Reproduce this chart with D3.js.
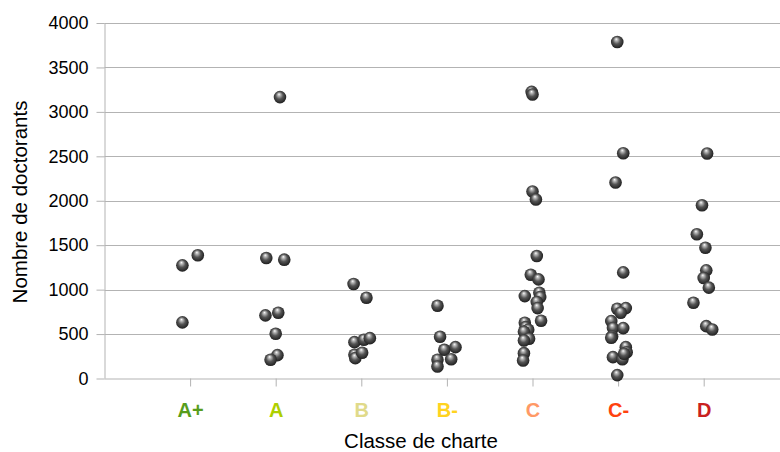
<!DOCTYPE html>
<html><head><meta charset="utf-8">
<script src="https://cdn.jsdelivr.net/npm/d3@7"></script>
<style>body{margin:0;background:#fff}svg{display:block}</style>
</head><body>
<svg id="c" width="780" height="452"></svg>
<script>
const categories = ["A+","A","B","B-","C","C-","D"];
const categoryColors = ["#579d1c","#aecf00","#e0da8a","#ffd320","#ff9966","#ff420e","#c9211e"];
const yTicks = [0,500,1000,1500,2000,2500,3000,3500,4000];
// x position (category index with jitter) and value per point
const xAplus = [0.91,1.09,0.91];
const vAplus = [1273,1386,631];
const xA = [2.05,1.89,2.10,2.03,1.88,2.00,2.02,1.94];
const vA = [3166,1355,1337,740,710,503,263,211];
const xB = [2.91,3.06,2.92,3.03,3.10,2.92,2.93,3.01];
const vB = [1063,909,409,436,454,267,229,290];
const xBm = [3.89,3.92,3.97,4.10,4.05,3.89,3.89];
const vBm = [819,470,323,353,217,211,135];
const xC = [4.99,5.00,5.00,5.04,5.05,4.98,5.07,4.91,5.08,5.09,5.05,5.06,5.10,4.91,4.92,4.95,4.90,4.96,4.90,4.90,4.89];
const vC = [3225,3195,2104,2014,1378,1168,1115,927,965,916,860,792,650,628,578,548,526,447,428,285,203];
const xCm = [5.99,6.06,5.97,6.06,5.99,6.09,6.03,5.92,5.94,6.06,5.93,5.92,6.09,6.10,5.94,6.05,6.07,5.99];
const vCm = [3786,2535,2205,1194,785,792,740,646,567,567,473,458,353,296,240,217,278,38];
const xD = [7.04,6.98,6.92,7.02,7.03,7.00,7.06,6.88,7.03,7.10];
const vD = [2532,1949,1623,1472,1217,1130,1022,853,589,552];

const series = [
  {x:xAplus,v:vAplus},{x:xA,v:vA},{x:xB,v:vB},{x:xBm,v:vBm},
  {x:xC,v:vC},{x:xCm,v:vCm},{x:xD,v:vD}
];
const points = series.flatMap(s => s.x.map((x,i)=>({x, v:s.v[i]})));

const svg = d3.select("#c");
const mLeft = 104.5, mRight = 780, mTop = 23, mBottom = 378.5;
const x = d3.scaleLinear().domain([0,8]).range([mLeft, mLeft + 8*85.6]);
const y = d3.scaleLinear().domain([0,4000]).range([mBottom, mTop]);
const FONT = "Liberation Sans, Arial, sans-serif";

const defs = svg.append("defs");
const g = defs.append("radialGradient").attr("id","ball").attr("cx","48%").attr("cy","48%").attr("r","58%").attr("fx","42%").attr("fy","26%");
g.append("stop").attr("offset","0%").attr("stop-color","#ffffff");
g.append("stop").attr("offset","16%").attr("stop-color","#c0c0c0");
g.append("stop").attr("offset","50%").attr("stop-color","#555555");
g.append("stop").attr("offset","100%").attr("stop-color","#151515");
defs.append("clipPath").attr("id","clip").append("rect").attr("x",mLeft).attr("y",0).attr("width",mRight-mLeft).attr("height",452);

// gridlines
svg.append("g").selectAll("line").data(yTicks.filter(d=>d>0)).join("line")
  .attr("x1",mLeft).attr("x2",mRight)
  .attr("y1",d=>Math.round(y(d))+0.5).attr("y2",d=>Math.round(y(d))+0.5)
  .attr("stroke","#b3b3b3").attr("stroke-width",1);

// y axis
const yAxis = d3.axisLeft(y).tickValues(yTicks).tickSize(8).tickPadding(8).tickFormat(d3.format("d"));
const ya = svg.append("g").attr("transform",`translate(${mLeft},0)`).call(yAxis);
ya.select(".domain").attr("stroke","#b3b3b3").attr("d",`M0.5,${mTop}V${mBottom}`);
ya.selectAll(".tick line").attr("stroke","#b3b3b3");
ya.selectAll("text").attr("font-family",FONT).attr("font-size",18).attr("fill","#000");

// x axis
const xAxis = d3.axisBottom(x).tickValues(d3.range(1,8)).tickSize(8).tickPadding(16).tickFormat(d=>categories[d-1]);
const xa = svg.append("g").attr("transform",`translate(0,${mBottom})`).call(xAxis);
xa.select(".domain").attr("stroke","#b3b3b3").attr("d",`M${mLeft},0.5H${mRight}`);
xa.selectAll(".tick line").attr("stroke","#b3b3b3");
xa.selectAll("text").attr("font-family",FONT).attr("font-size",20).attr("font-weight","bold")
  .attr("fill",(d)=>categoryColors[d-1]);

// points
svg.append("g").attr("clip-path","url(#clip)").selectAll("circle").data(points).join("circle")
  .attr("cx",d=>x(d.x)).attr("cy",d=>y(d.v)).attr("r",6.3)
  .attr("fill","url(#ball)");

// titles
svg.append("text").attr("x",421).attr("y",448).attr("text-anchor","middle")
  .attr("font-family",FONT).attr("font-size",20.5).text("Classe de charte");
svg.append("text").attr("transform","translate(27,202) rotate(-90)").attr("text-anchor","middle")
  .attr("font-family",FONT).attr("font-size",20.5).text("Nombre de doctorants");
</script>
</body></html>
